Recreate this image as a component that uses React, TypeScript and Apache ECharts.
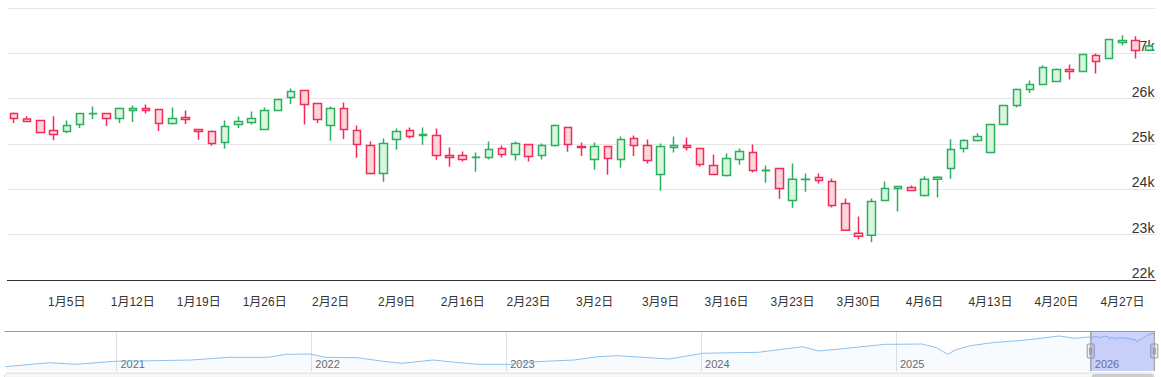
import React, { useEffect, useRef } from "react";
import * as echarts from "echarts";

// Trading days shown in the main window
const dates: string[] = [
  "2025-12-30", "2025-12-31", "2026-01-01", "2026-01-02",
  "2026-01-05", "2026-01-06", "2026-01-07", "2026-01-08", "2026-01-09",
  "2026-01-12", "2026-01-13", "2026-01-14", "2026-01-15", "2026-01-16",
  "2026-01-19", "2026-01-20", "2026-01-21", "2026-01-22", "2026-01-23",
  "2026-01-26", "2026-01-27", "2026-01-28", "2026-01-29", "2026-01-30",
  "2026-02-02", "2026-02-03", "2026-02-04", "2026-02-05", "2026-02-06",
  "2026-02-09", "2026-02-10", "2026-02-11", "2026-02-12", "2026-02-13",
  "2026-02-16", "2026-02-17", "2026-02-18", "2026-02-19", "2026-02-20",
  "2026-02-23", "2026-02-24", "2026-02-25", "2026-02-26", "2026-02-27",
  "2026-03-02", "2026-03-03", "2026-03-04", "2026-03-05", "2026-03-06",
  "2026-03-09", "2026-03-10", "2026-03-11", "2026-03-12", "2026-03-13",
  "2026-03-16", "2026-03-17", "2026-03-18", "2026-03-19", "2026-03-20",
  "2026-03-23", "2026-03-24", "2026-03-25", "2026-03-26", "2026-03-27",
  "2026-03-30", "2026-03-31", "2026-04-01", "2026-04-02", "2026-04-03",
  "2026-04-06", "2026-04-07", "2026-04-08", "2026-04-09", "2026-04-10",
  "2026-04-13", "2026-04-14", "2026-04-15", "2026-04-16", "2026-04-17",
  "2026-04-20", "2026-04-21", "2026-04-22", "2026-04-23", "2026-04-24",
  "2026-04-27", "2026-04-28", "2026-04-29",
];

const opens: number[] = [
  25672, 25553, 25518, 25298, 25276, 25430, 25665, 25672, 25562, 25738,
  25783, 25760, 25452, 25584, 25320, 25276, 25033, 25430, 25474, 25320,
  25738, 26025, 26179, 25893, 25408, 25783, 25298, 24967, 24351, 25100,
  25298, 25188, 25188, 24747, 24747, 24700, 24703, 24901, 24769, 24989,
  24747, 24967, 25364, 24945, 24659, 24945, 24659, 25122, 24967, 24329,
  24923, 24967, 24901, 24527, 24307, 24659, 24813, 24412, 24461, 23756,
  24215, 24262, 24174, 23690, 23029, 22985, 23756, 24020, 24042, 23866,
  24220, 24461, 24901, 25077, 24813, 25430, 25849, 26201, 26311, 26377,
  26642, 26598, 26950, 26884, 27237, 27281, 27070,
];
const closes: number[] = [
  25562, 25496, 25254, 25210, 25408, 25672, 25675, 25562, 25783, 25783,
  25738, 25452, 25562, 25540, 25276, 25011, 25386, 25496, 25562, 25738,
  25981, 26157, 25871, 25540, 25783, 25320, 24989, 24351, 25011, 25276,
  25166, 25210, 24747, 24703, 24659, 24705, 24879, 24769, 25011, 24725,
  24967, 25408, 24989, 24923, 24945, 24681, 25100, 24967, 24637, 24945,
  24967, 24923, 24549, 24329, 24681, 24835, 24417, 24420, 24020, 24220,
  24222, 24196, 23646, 23095, 22963, 23734, 24020, 24064, 23976, 24220,
  24264, 24879, 25077, 25166, 25430, 25849, 26201, 26311, 26686, 26642,
  26598, 26972, 26818, 27303, 27281, 27060, 27160,
];
const lows: number[] = [
  25465, 25490, 25245, 25084, 25245, 25355, 25553, 25399, 25465, 25487,
  25672, 25289, 25430, 25443, 25091, 24959, 24893, 25355, 25430, 25315,
  25735, 25884, 25430, 25465, 25069, 25113, 24694, 24329, 24166, 24871,
  25122, 24981, 24650, 24496, 24615, 24386, 24659, 24703, 24637, 24615,
  24659, 24945, 24831, 24738, 24430, 24320, 24474, 24738, 24571, 23967,
  24813, 24857, 24496, 24325, 24285, 24540, 24373, 24144, 23795, 23593,
  23945, 24130, 23602, 23090, 22897, 22831, 23752, 23513, 23955, 23840,
  23820, 24232, 24813, 25056, 24791, 25428, 25805, 26126, 26308, 26374,
  26421, 26595, 26554, 26880, 27171, 26884, 27045,
];
const highs: number[] = [
  25694, 25613, 25525, 25613, 25518, 25680, 25827, 25680, 25805, 25849,
  25871, 25770, 25805, 25738, 25325, 25298, 25518, 25606, 25716, 25805,
  25985, 26223, 26185, 25900, 25827, 25915, 25408, 25056, 25122, 25342,
  25364, 25364, 25342, 24923, 24835, 24813, 25056, 24967, 25056, 24995,
  25011, 25430, 25370, 25033, 25033, 24950, 25166, 25188, 25100, 25011,
  25166, 25144, 24905, 24769, 24791, 24901, 24989, 24527, 24465, 24571,
  24351, 24351, 24240, 23800, 23403, 23800, 24174, 24068, 24086, 24286,
  24286, 25107, 25107, 25238, 25435, 25852, 26223, 26399, 26730, 26664,
  26752, 26976, 26994, 27306, 27397, 27375, 27190,
];

// Navigator (history) closes read from the overview strip, before the main window
const navDates: string[] = [
  "2020-06-05", "2020-08-28", "2020-10-17", "2020-12-29", "2021-03-10",
  "2021-05-21", "2021-08-01", "2021-10-12", "2021-11-16", "2021-12-30",
  "2022-01-27", "2022-03-29", "2022-05-15", "2022-06-20", "2022-08-17",
  "2022-10-05", "2022-11-10", "2023-01-07", "2023-02-26", "2023-05-09",
  "2023-06-21", "2023-07-28", "2023-11-02", "2024-01-04", "2024-04-18",
  "2024-07-10", "2024-08-08", "2024-09-12", "2024-12-12", "2025-01-02",
  "2025-02-19", "2025-03-18", "2025-04-08", "2025-04-22", "2025-05-20",
  "2025-07-01", "2025-09-02", "2025-11-03", "2025-12-01",
];
const navValues: number[] = [
  9690, 11820, 10970, 12570, 12880, 13260, 14700, 14700, 16290, 16450,
  14700, 14480, 12570, 11500, 13260, 11820, 10970, 10970, 12360, 13260,
  15020, 15550, 13790, 16830, 17360, 20340, 18050, 18950, 21620, 21620,
  21780, 19810, 16290, 18580, 20870, 22470, 23910, 26040, 24810,
];
const navEnd = "2026-04-30";

const FONT = '"Liberation Sans", Arial, "Noto Sans CJK SC", sans-serif';

function fracYear(s: string): number {
  const [y, m, d] = s.split("-").map(Number);
  const start = Date.UTC(y, 0, 1);
  const end = Date.UTC(y + 1, 0, 1);
  return y + (Date.UTC(y, m - 1, d) - start) / (end - start);
}
function isMonday(_i: number, v: string): boolean {
  return new Date(v + "T00:00:00Z").getUTCDay() === 1;
}
function dayLabel(v: string): string {
  const [, m, d] = v.split("-").map(Number);
  return `${m}月${d}日`;
}

export default function App() {
  const ref = useRef<HTMLDivElement>(null);
  useEffect(() => {
    const chart = echarts.init(ref.current!, null, { renderer: "svg" });
    const candleData = dates.map((_, i) => [opens[i], closes[i], lows[i], highs[i]]);
    const navAll = [
      ...navDates.map((d, i) => [fracYear(d), navValues[i]]),
      ...dates.map((d, i) => [fracYear(d), closes[i]]),
    ];
    const navMin = fracYear(navDates[0]);
    const navMax = fracYear(navEnd);
    chart.setOption({
      animation: false,
      grid: [
        { left: 7.4, top: 8, width: 1148, height: 272 },
        { left: 4.6, top: 331, width: 1149.7, height: 40 },
      ],
      xAxis: [
        {
          type: "category",
          gridIndex: 0,
          data: dates,
          boundaryGap: true,
          axisLine: { lineStyle: { color: "#333", width: 1 } },
          axisTick: {
            alignWithLabel: true,
            interval: isMonday,
            length: 10,
            lineStyle: { color: "#333" },
          },
          axisLabel: {
            interval: isMonday,
            formatter: dayLabel,
            margin: 16,
            fontSize: 12,
            color: "#333",
            fontFamily: FONT,
          },
          splitLine: { show: false },
        },
        {
          type: "value",
          gridIndex: 1,
          min: navMin,
          max: navMax,
          axisLine: { show: false },
          axisTick: { show: false },
          axisLabel: {
            inside: true,
            align: "left",
            margin: 2,
            padding: [0, 0, 0, 4],
            fontSize: 11,
            color: "#666",
            fontFamily: FONT,
            showMinLabel: false,
            showMaxLabel: false,
            formatter: (v: number) => (Math.abs(v - Math.round(v)) < 1e-6 ? String(Math.round(v)) : ""),
          },
          splitLine: { show: true, lineStyle: { color: "#e0e0e0" } },
        },
      ],
      yAxis: [
        {
          type: "value",
          gridIndex: 0,
          position: "right",
          min: 22000,
          max: 28000,
          interval: 1000,
          axisLine: { show: false },
          axisTick: { show: false },
          axisLabel: {
            inside: true,
            margin: 1,
            verticalAlign: "bottom",
            fontSize: 14,
            color: "#333",
            fontFamily: FONT,
            showMaxLabel: false,
            formatter: (v: number) => v / 1000 + "k",
          },
          splitLine: { lineStyle: { color: "#e6e6e6" } },
        },
        { type: "value", gridIndex: 1, min: 7400, max: 28700, show: false },
      ],
      series: [
        {
          type: "candlestick",
          xAxisIndex: 0,
          yAxisIndex: 0,
          data: candleData,
          barWidth: 8,
          itemStyle: {
            color: "#dcf5de",
            color0: "#fcd7da",
            borderColor: "#2aaf5f",
            borderColor0: "#f42a5b",
            borderWidth: 1.5,
          },
        },
        {
          type: "line",
          xAxisIndex: 1,
          yAxisIndex: 1,
          data: navAll,
          showSymbol: false,
          silent: true,
          lineStyle: { color: "#8cc0f0", width: 1 },
          areaStyle: { color: "rgba(130,180,240,0.08)" },
        },
      ],
    });

    const px = (t: number) => chart.convertToPixel({ xAxisIndex: 1 }, t) as number;
    const navL = px(navMin);
    const navR = px(navMax);
    const x0 = px(fracYear(dates[0])) + 1;
    const x1 = navR;
    const top = 331;
    const bot = 371;
    const handle = (x: number) => ({
      type: "group",
      z: 120,
      children: [
        {
          type: "rect",
          shape: { x: x - 3.5, y: 344, width: 7, height: 14, r: 1 },
          style: { fill: "#f2f2f2", stroke: "#999", lineWidth: 1 },
        },
        { type: "line", shape: { x1: x - 1, y1: 347.5, x2: x - 1, y2: 354.5 }, style: { stroke: "#999", lineWidth: 1 } },
        { type: "line", shape: { x1: x + 1, y1: 347.5, x2: x + 1, y2: 354.5 }, style: { stroke: "#999", lineWidth: 1 } },
      ],
    });
    chart.setOption({
      graphic: [
        // hide the axis edge split line at the navigator's left boundary
        { type: "line", z: 90, shape: { x1: navL, y1: top, x2: navL, y2: bot }, style: { stroke: "#fff", lineWidth: 2 } },
        {
          type: "rect",
          z: 100,
          shape: { x: x0, y: top, width: x1 - x0, height: bot - top },
          style: { fill: "rgba(102,120,240,0.33)" },
        },
        { type: "line", z: 110, shape: { x1: navL, y1: top + 0.5, x2: navR, y2: top + 0.5 }, style: { stroke: "#999", lineWidth: 1 } },
        { type: "line", z: 110, shape: { x1: x0, y1: top, x2: x0, y2: bot }, style: { stroke: "#999", lineWidth: 1 } },
        { type: "line", z: 110, shape: { x1: x1, y1: top, x2: x1, y2: bot }, style: { stroke: "#999", lineWidth: 1 } },
        {
          type: "rect",
          z: 100,
          shape: { x: navL, y: 373, width: navR - navL, height: 14, r: 4 },
          style: { fill: "#f7f7f7", stroke: "#dddddd", lineWidth: 1 },
        },
        {
          type: "rect",
          z: 105,
          shape: { x: x0 + 1, y: 374, width: x1 - x0 - 2, height: 12, r: 3 },
          style: { fill: "#cccccc" },
        },
        handle(x0),
        handle(x1),
      ],
    });
    return () => chart.dispose();
  }, []);
  return (
    <div
      ref={ref}
      style={{ position: "fixed", left: 0, top: 0, width: 1161, height: 377, background: "#fff" }}
    />
  );
}
